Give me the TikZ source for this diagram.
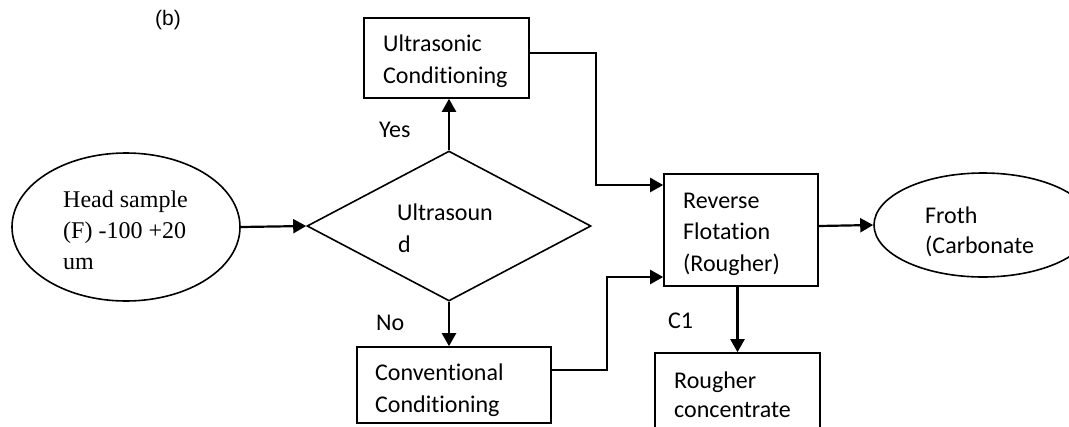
\documentclass[tikz,border=0pt]{standalone}
\usepackage{fontspec}
\setmainfont{Carlito}[Ligatures={NoCommon}]
\newfontfamily\timesf{Liberation Serif}
\newfontfamily\arialf{Liberation Sans}
\usetikzlibrary{shapes.geometric,arrows.meta,calc}
\begin{document}
\begin{tikzpicture}[x=1pt,y=-1pt,
  boxst/.style={draw,line width=1.6pt,inner sep=0pt,rectangle},
  ellst/.style={draw,line width=1.6pt,inner sep=0pt,ellipse},
  diast/.style={draw,line width=1.6pt,inner sep=0pt,diamond},
  txt/.style={anchor=base west,inner sep=0pt,font=\fontsize{24}{30}\selectfont},
  ttxt/.style={anchor=base west,inner sep=0pt,font=\timesf\fontsize{24}{30}\selectfont},
  arr/.style={line width=2.2pt,-{Triangle[length=13pt,width=14pt]}}]
\useasboundingbox (0,0) rectangle (1069,426);
\clip (0,0) rectangle (1069,426);
\fill[white] (0,0) rectangle (1069,426);
% shapes
\node[ellst,minimum width=228pt,minimum height=148pt] (head) at (126,227) {};
\node[diast,minimum width=284pt,minimum height=150pt] (dia) at (449,226) {};
\node[boxst,minimum width=165pt,minimum height=80pt] (ultra) at (446.5,58) {};
\node[boxst,minimum width=194pt,minimum height=76pt] (conv) at (454,385) {};
\node[boxst,minimum width=154pt,minimum height=112pt] (rev) at (741,230) {};
\node[ellst,minimum width=218pt,minimum height=104pt] (froth) at (983,225) {};
\node[boxst,minimum width=165pt,minimum height=87pt] (rough) at (737.5,396.5) {};
% texts
\node[anchor=base west,inner sep=0pt,font=\arialf\fontsize{21}{24}\selectfont] (lb) at (155,25) {(b)};
\node[ttxt] (h1) at (63,207) {Head sample};
\node[ttxt] (h2) at (63,238) {(F) -100 +20};
\node[ttxt] (h3) at (63,269) {um};
\node[txt] (d1) at (397,220) {Ultrasoun};
\node[txt] (d2) at (398,252) {d};
\node[txt] (u1) at (383,51) {Ultrasonic};
\node[txt] (u2) at (383,83) {Conditioning};
\node[txt] (c1) at (375,380) {Conventional};
\node[txt] (c2) at (375,412) {Conditioning};
\node[txt] (r1) at (683,208) {Reverse};
\node[txt] (r2) at (683,239) {Flotation};
\node[txt] (r3) at (683,271) {(Rougher)};
\node[txt] (f1) at (925,223) {Froth};
\node[txt] (f2) at (925,253) {(Carbonate};
\node[txt] (g1) at (674,388) {Rougher};
\node[txt] (g2) at (674,417) {concentrate};
\node[txt] (yes) at (379,137) {Yes};
\node[txt] (no) at (376,330) {No};
\node[txt] (cc) at (668,328) {C1};
% connectors
\coordinate (k1) at (596,0);
\coordinate (k2) at (607,0);
\draw[arr] (head.east) -- (dia.west);
\draw[arr] (dia.north) -- (dia.north |- ultra.south);
\draw[arr] (dia.south) -- (dia.south |- conv.north);
\draw[arr] ([yshift=5pt]ultra.east) -- ([yshift=5pt]ultra.east -| k1) |- ([yshift=45pt]rev.west);
\draw[arr] ([yshift=15pt]conv.east) -- ([yshift=15pt]conv.east -| k2) |- ([yshift=-47pt]rev.west);
\draw[arr] ([yshift=4pt]rev.east) -- (froth.west);
\draw[arr] (rough.north |- rev.south) -- (rough.north);
\end{tikzpicture}
\end{document}
